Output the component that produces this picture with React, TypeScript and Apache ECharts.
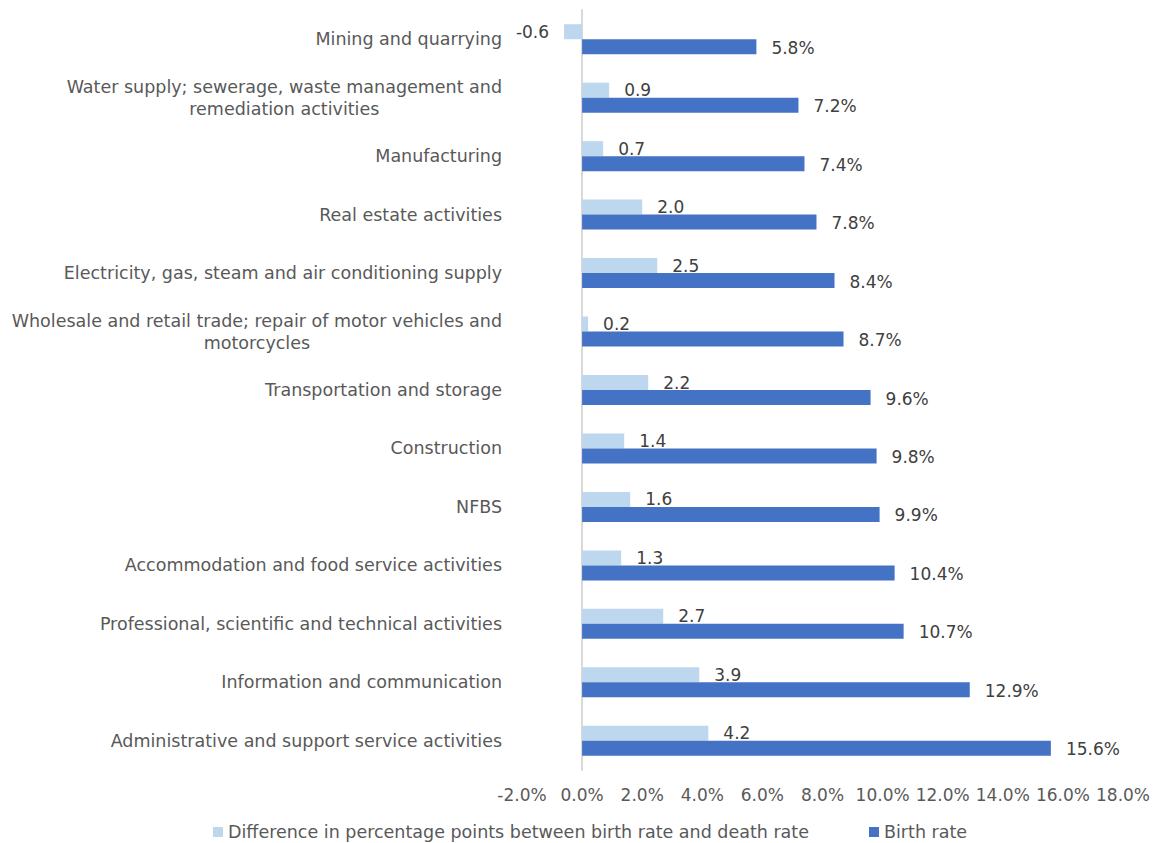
import React, { useEffect, useRef } from "react";
import * as echarts from "echarts";

const categories: string[] = [
  "Mining and quarrying",
  "Water supply; sewerage, waste management and\nremediation activities",
  "Manufacturing",
  "Real estate activities",
  "Electricity, gas, steam and air conditioning supply",
  "Wholesale and retail trade; repair of motor vehicles and\nmotorcycles",
  "Transportation and storage",
  "Construction",
  "NFBS",
  "Accommodation and food service activities",
  "Professional, scientific and technical activities",
  "Information and communication",
  "Administrative and support service activities",
];

const differenceValues: number[] = [-0.6, 0.9, 0.7, 2.0, 2.5, 0.2, 2.2, 1.4, 1.6, 1.3, 2.7, 3.9, 4.2];
const birthRateValues: number[] = [5.8, 7.2, 7.4, 7.8, 8.4, 8.7, 9.6, 9.8, 9.9, 10.4, 10.7, 12.9, 15.6];

const seriesNames: string[] = [
  "Difference in percentage points between birth rate and death rate",
  "Birth rate",
];

const FONT = "'DejaVu Sans', 'Noto Sans', sans-serif";
const GREY = "#595959";
const FS = 17;
const FS_CAT = 17.5;

export default function App() {
  const ref = useRef<HTMLDivElement>(null);

  useEffect(() => {
    if (!ref.current) return;
    const chart = echarts.init(ref.current, undefined, { renderer: "svg" });
    chart.setOption({
      animation: false,
      textStyle: { fontFamily: FONT },
      grid: { left: 522, right: 28, top: 10, bottom: 73, containLabel: false },
      xAxis: {
        type: "value",
        min: -2,
        max: 18,
        interval: 2,
        axisLine: { show: false },
        axisTick: { show: false },
        splitLine: { show: false },
        axisLabel: {
          color: GREY,
          fontSize: FS,
          fontFamily: FONT,
          margin: 16,
          formatter: (v: number) => v.toFixed(1) + "%",
        },
      },
      yAxis: {
        type: "category",
        inverse: true,
        data: categories,
        axisLine: { show: true, onZero: true, lineStyle: { color: "#d9d9d9", width: 2 } },
        axisTick: { show: false },
        axisLabel: {
          margin: 20,
          color: GREY,
          fontSize: FS_CAT,
          fontFamily: FONT,
          formatter: (v: string) =>
            v
              .split("\n")
              .map((l) => "{c|" + l + "}")
              .join("\n"),
          rich: {
            c: { align: "center", color: GREY, fontSize: FS_CAT, fontFamily: FONT, lineHeight: 22 },
          },
        },
      },
      legend: {
        top: 818,
        left: 208,
        icon: "rect",
        itemWidth: 10,
        itemHeight: 10,
        itemGap: 60,
        textStyle: { color: GREY, fontSize: FS_CAT, fontFamily: FONT },
        data: seriesNames,
      },
      series: [
        {
          name: seriesNames[0],
          type: "bar",
          barWidth: 15,
          barGap: "0%",
          itemStyle: { color: "#BDD7EE" },
          data: differenceValues.map((v) => ({
            value: v,
            label: { position: v < 0 ? "left" : "right" },
          })),
          label: {
            show: true,
            distance: 15,
            color: "#404040",
            fontSize: FS,
            fontFamily: FONT,
            offset: [0, 0],
            formatter: (p: any) => Number(p.value).toFixed(1),
          },
        },
        {
          name: seriesNames[1],
          type: "bar",
          barWidth: 15,
          barGap: "0%",
          itemStyle: { color: "#4472C4" },
          data: birthRateValues,
          label: {
            show: true,
            position: "right",
            distance: 15,
            color: "#404040",
            fontSize: FS,
            fontFamily: FONT,
            offset: [0, 1],
            formatter: (p: any) => Number(p.value).toFixed(1) + "%",
          },
        },
      ],
    });
    return () => chart.dispose();
  }, []);

  return (
    <div
      ref={ref}
      style={{ position: "absolute", left: 0, top: 0, width: 1153, height: 843, background: "#fff" }}
    />
  );
}
